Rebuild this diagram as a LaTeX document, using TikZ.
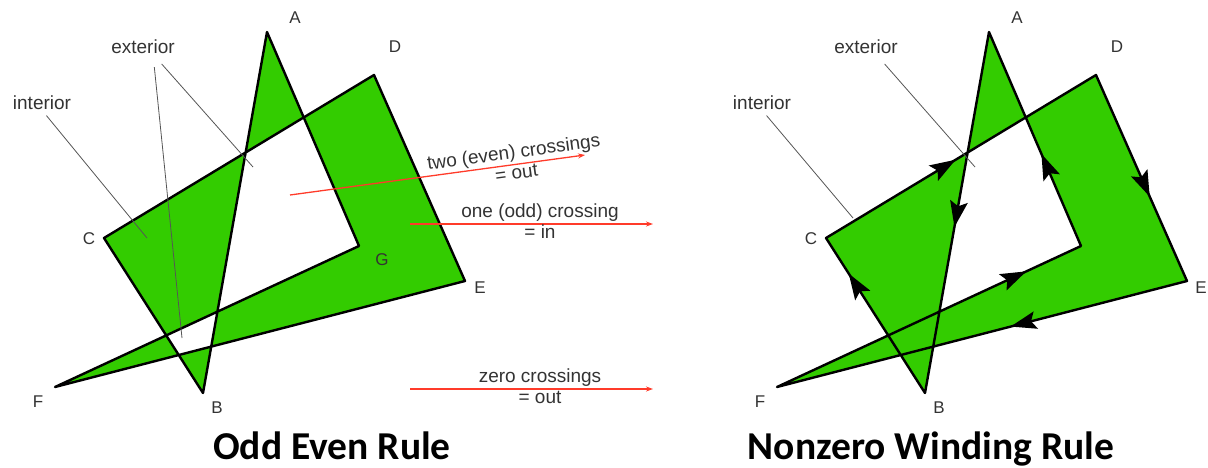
\documentclass[tikz,border=0pt]{standalone}
\usepackage{fontspec}
\setmainfont{Liberation Sans}
\newfontfamily\titlefont{Carlito}
\usetikzlibrary{arrows.meta,calc}
\definecolor{ink}{HTML}{333333}
\definecolor{fillcol}{HTML}{33CC00}
\definecolor{raycol}{HTML}{FF3B2A}
\definecolor{leadcol}{HTML}{555555}
% the self-crossing outline A-B-C-D-E-F-G
\newcommand{\crosspoints}{%
  \coordinate (A) at (267,32);  \coordinate (B) at (203,393);
  \coordinate (C) at (104,238); \coordinate (D) at (374,75);
  \coordinate (E) at (465,281); \coordinate (F) at (55,387);
  \coordinate (G) at (359,246);}
\newcommand{\crosspoly}[1]{%
  \path[#1] (A) -- (B) -- (C) -- (D) -- (E) -- (F) -- (G) -- cycle;}

\begin{document}
\begin{tikzpicture}[
  x=1pt, y=-1pt, line join=round,
  poly/.style={draw=black, line width=2.4pt, fill=fillcol},
  vtx/.style={font=\fontsize{17}{20}\selectfont, text=ink, inner sep=0pt},
  note/.style={font=\fontsize{19}{21}\selectfont, text=ink, align=center, inner sep=0pt},
  lead/.style={draw=leadcol, line width=0.8pt},
  ray/.style={draw=raycol, line width=1.3pt, -{Stealth[length=7pt,width=5pt]}},
  ttl/.style={font=\titlefont\bfseries\fontsize{39.5}{44}\selectfont, anchor=base}]
\useasboundingbox (0,0) rectangle (1208,468);

% ==================================================== left: odd even
\begin{scope}
  \crosspoints
  \crosspoly{poly, even odd rule}
  \foreach \v/\dx/\dy in {A/28/-14, B/14/15, C/-15/1, D/21/-28,
                          E/15/7, F/-17/15, G/23/14}
    \node[vtx] at ($(\v)+(\dx,\dy)$) {\v};

  % leaders
  \node[note] (intL) at (42,103) {interior};
  \coordinate (intLin) at (147,238);
  \draw[lead, shorten <=7pt] (intL.south) -- (intLin);
  \node[note] (extL) at (143,47) {exterior};
  \coordinate (extLa) at (182,338);
  \coordinate (extLb) at (253,167);
  \draw[lead, shorten <=13pt] ([xshift=10pt]extL.south) -- (extLa);
  \draw[lead, shorten <=13pt] ([xshift=10pt]extL.south) -- (extLb);

  % test rays
  \coordinate (twoS) at (290,195); \coordinate (twoE) at (585,155);
  \coordinate (oneS) at (410,224); \coordinate (oneE) at (653,224);
  \coordinate (zeroS) at (410,389); \coordinate (zeroE) at (653,389);
  \draw[ray] (twoS) -- (twoE);
  \draw[ray] (oneS) -- (oneE);
  \draw[ray] (zeroS) -- (zeroE);
  \node[note, rotate=7.7] (two) at (515,162) {two (even) crossings\\= out};
  \node[note] (one) at (540,221) {one (odd) crossing\\= in};
  \node[note] (zero) at (540,386) {zero crossings\\= out};
\end{scope}
\node[ttl] (ttlL) at (332,459) {Odd Even Rule};

% ==================================================== right: nonzero winding
\begin{scope}[shift={(722,0)}]
  \crosspoints
  \crosspoly{poly, nonzero rule}
  % direction tips along each edge
  \foreach \p/\q/\t in {A/B/0.54, B/C/0.77, C/D/0.48, D/E/0.59,
                        E/F/0.43, F/G/0.82, G/A/0.43}{
    \coordinate (tip) at ($(\p)!\t!(\q)$);
    \coordinate (tail) at ($(tip)!26pt!(\p)$);
    \coordinate (notch) at ($(tip)!21pt!(\p)$);
    \fill ($(tail)!9pt!90:(tip)$) -- (tip) -- ($(tail)!9pt!-90:(tip)$)
      -- (notch) -- cycle;}
  \foreach \v/\dx/\dy in {A/28/-14, B/14/15, C/-15/1, D/21/-28,
                          E/14/7, F/-17/15}
    \node[vtx] at ($(\v)+(\dx,\dy)$) {\v};

  % leaders
  \node[note] (intR) at (40,103) {interior};
  \coordinate (intRin) at (131,218);
  \draw[lead, shorten <=7pt] (intR.south) -- (intRin);
  \node[note] (extR) at (144,47) {exterior};
  \coordinate (extRin) at (253,167);
  \draw[lead, shorten <=13pt] ([xshift=10pt]extR.south) -- (extRin);
\end{scope}
\node[ttl] (ttlR) at (931,459) {Nonzero Winding Rule};

\end{tikzpicture}
\end{document}
